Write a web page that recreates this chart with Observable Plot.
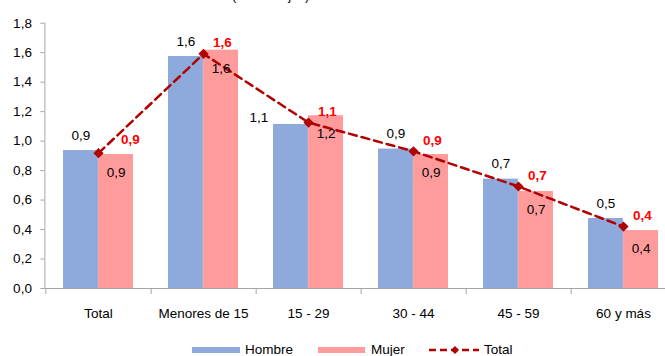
<!DOCTYPE html>
<html><head><meta charset="utf-8">
<script src="https://cdn.jsdelivr.net/npm/d3@7"></script>
<script src="https://cdn.jsdelivr.net/npm/@observablehq/plot@0.6"></script>
<style>
body{margin:0;background:#fff;font-family:"Liberation Sans",Arial,sans-serif;}
#wrap{position:relative;width:665px;height:356px;overflow:hidden;background:#fff;}
#title{position:absolute;top:-12px;left:232px;font-size:13px;line-height:15px;white-space:nowrap;}
.leg{position:absolute;font-size:13.5px;line-height:13px;color:#000;white-space:nowrap;}
</style></head><body>
<div id="wrap"><div id="chart"></div><div id="title">(Porcentajes)</div></div>
<script>
const categories = ["Total", "Menores de 15", "15 - 29", "30 - 44", "45 - 59", "60 y más"];
const hombre = [0.936, 1.574, 1.113, 0.946, 0.742, 0.475];
const mujer  = [0.909, 1.617, 1.172, 0.909, 0.658, 0.393];
const total  = [0.918, 1.592, 1.126, 0.931, 0.692, 0.420];
const yTicks = [0, 0.2, 0.4, 0.6, 0.8, 1.0, 1.2, 1.4, 1.6, 1.8];
const seriesNames = ["Hombre", "Mujer", "Total"];

const data = categories.map((c, i) => ({cat: c, h: hombre[i], m: mujer[i], t: total[i]}));
const fmt = v => v.toFixed(1).replace(".", ",");
const BLUE = "#8EA9DB", PINK = "#FF9B9B", LINE = "#B00000", RED = "#FF0000", AX = "#A6A6A6";
const step = 105.3, half = step / 3;

const chart = Plot.plot({
  width: 665, height: 332,
  marginLeft: 44.4, marginRight: -11.6, marginTop: 22.7, marginBottom: 44,
  style: {fontFamily: '"Liberation Sans", Arial, sans-serif', fontSize: "13.5px", background: "transparent", color: "#000", overflow: "hidden"},
  x: {domain: categories, paddingInner: 1/3, paddingOuter: 1/6, label: null},
  y: {domain: [0, 1.8], label: null},
  marks: [
    Plot.barY(data, {x: "cat", y: "h", fill: BLUE, insetRight: half}),
    Plot.barY(data, {x: "cat", y: "m", fill: PINK, insetLeft: half}),
    Plot.frame({anchor: "left", stroke: AX}),
    Plot.ruleY([0], {stroke: AX}),
    Plot.axisY({ticks: yTicks, tickSize: 4, tickPadding: 9, tickFormat: fmt, stroke: AX, fill: "#000", label: null}),
    Plot.axisX({tickSize: 6, tickFormat: () => "", dx: step / 2, stroke: AX, label: null}),
    Plot.axisX([categories[0]], {tickSize: 6, tickFormat: () => "", dx: -step / 2, stroke: AX, label: null}),
    Plot.axisX({tickSize: 0, tickPadding: 20, fill: "#000", label: null}),
    Plot.line(data, {x: "cat", y: "t", stroke: LINE, strokeWidth: 2.5, strokeDasharray: "8,5"}),
    Plot.dot(data, {x: "cat", y: "t", symbol: "diamond2", r: 4.6, fill: LINE, stroke: null}),
    Plot.text(data.filter(d => d.cat !== "15 - 29"), {x: "cat", y: "h", text: d => fmt(d.h), dx: -half / 2, dy: -15}),
    Plot.text(data.filter(d => d.cat === "15 - 29"), {x: "cat", y: "h", text: d => fmt(d.h), dx: -half / 2 - 32, dy: -6.5}),
    Plot.text(data, {x: "cat", y: "m", text: d => fmt(d.m), dx: half / 2, dy: 18}),
    Plot.text(data.slice(1), {x: "cat", y: "t", text: d => fmt(d.t), dx: 19, dy: -11, fill: RED, fontWeight: "bold"}),
    Plot.text(data.slice(0, 1), {x: "cat", y: "t", text: d => fmt(d.t), dx: 32, dy: -14, fill: RED, fontWeight: "bold"})
  ]
});
document.getElementById("chart").appendChild(chart);

// Legend (HTML, below the SVG)
const wrap = document.getElementById("wrap");
function add(html, css) {
  const el = document.createElement("div");
  el.className = "leg";
  el.innerHTML = html;
  Object.assign(el.style, css);
  wrap.appendChild(el);
}
add("", {left: "192px", top: "347px", width: "48px", height: "6px", background: BLUE});
add(seriesNames[0], {left: "245px", top: "343px"});
add("", {left: "318px", top: "347px", width: "47px", height: "6px", background: PINK});
add(seriesNames[1], {left: "371px", top: "343px"});
add(`<svg width="50" height="12" style="display:block"><line x1="0" x2="50" y1="6" y2="6" stroke="${LINE}" stroke-width="2.5" stroke-dasharray="7,4"/><path d="M26,2L30,6L26,10L22,6Z" fill="${LINE}"/></svg>`, {left: "429px", top: "344px"});
add(seriesNames[2], {left: "484px", top: "343px"});
</script>
</body></html>
